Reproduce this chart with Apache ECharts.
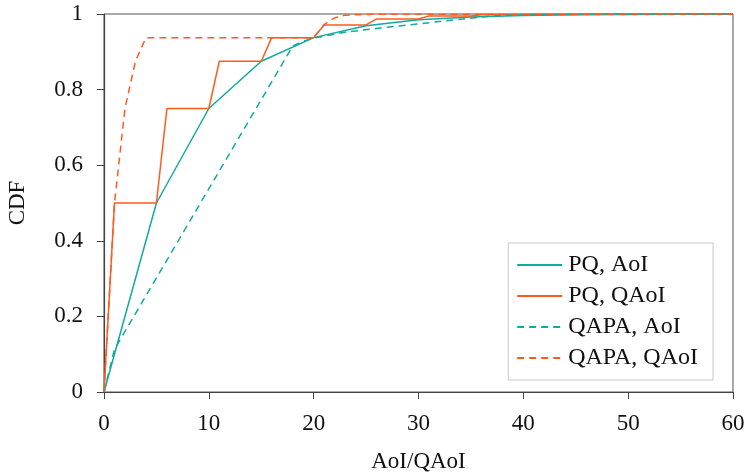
<!DOCTYPE html>
<html>
<head>
<meta charset="utf-8">
<script src="https://cdn.jsdelivr.net/npm/echarts@6/dist/echarts.min.js"></script>
<style>html,body{margin:0;padding:0;background:#fff}#c{width:746px;height:472px}</style>
</head>
<body>
<div id="c"></div>
<script>
var xTicks = [0, 10, 20, 30, 40, 50, 60];
var yTicks = [0, 0.2, 0.4, 0.6, 0.8, 1];
var seriesNames = ['PQ, AoI', 'PQ, QAoI', 'QAPA, AoI', 'QAPA, QAoI'];

var pqAoI_x = [0, 5, 10, 15, 20, 25, 30, 35, 40, 45, 50, 55, 60];
var pqAoI_y = [0, 0.5, 0.75, 0.875, 0.9375, 0.969, 0.985, 0.992, 0.996, 0.998, 0.999, 0.9995, 1];

var pqQAoI_x = [0, 1, 5, 6, 10, 11, 15, 16, 20, 21, 25, 26, 30, 31, 35, 36, 40, 41, 45, 46, 60];
var pqQAoI_y = [0, 0.5, 0.5, 0.75, 0.75, 0.875, 0.875, 0.9375, 0.9375, 0.971, 0.971, 0.987, 0.987, 0.995, 0.995, 0.998, 0.998, 0.999, 0.999, 1, 1];

var qapaAoI_x = [0, 1, 18, 19, 20, 23, 27, 31, 34, 37, 40, 60];
var qapaAoI_y = [0, 0.113, 0.915, 0.928, 0.936, 0.952, 0.965, 0.977, 0.986, 0.995, 0.999, 1];

var qapaQAoI_x = [0, 1, 2, 3, 4, 20, 21, 22, 23, 25, 60];
var qapaQAoI_y = [0, 0.5, 0.75, 0.875, 0.9375, 0.9375, 0.972, 0.99, 0.997, 0.999, 1];

var TEAL = '#10aa9f';
var ORANGE = '#ff5a1e';
var FONT = 'Liberation Serif';
var FS = 23;

function pairs(xs, ys) { return xs.map(function (x, i) { return [x, ys[i]]; }); }

function mk(name, xs, ys, color, dashed) {
  return {
    name: name, type: 'line', data: pairs(xs, ys), symbol: 'none', showSymbol: false,
    animation: false,
    lineStyle: { color: color, width: 1.5, type: dashed ? [7, 5] : 'solid' },
    itemStyle: { color: color }
  };
}

var chart = echarts.init(document.getElementById('c'), null, { renderer: 'canvas' });
chart.setOption({
  animation: false,
  textStyle: { fontFamily: FONT },
  grid: { left: 104, right: 13, top: 14, bottom: 80, containLabel: false, outerBoundsMode: 'none',
          show: true, borderColor: '#555', borderWidth: 1 },
  xAxis: {
    type: 'value', min: xTicks[0], max: xTicks[xTicks.length - 1], interval: 10,
    name: 'AoI/QAoI', nameLocation: 'middle', nameGap: 58,
    nameTextStyle: { fontFamily: FONT, fontSize: FS, color: '#111' },
    axisLine: { show: true, lineStyle: { color: '#444', width: 1.2 } },
    axisTick: { show: true, inside: false, length: 7, lineStyle: { color: '#444' } },
    axisLabel: { fontFamily: FONT, fontSize: FS, color: '#111', margin: 20 },
    splitLine: { show: false }
  },
  yAxis: {
    type: 'value', min: yTicks[0], max: yTicks[yTicks.length - 1], interval: 0.2,
    name: 'CDF', nameLocation: 'middle', nameGap: 75, nameRotate: 90,
    nameTextStyle: { fontFamily: FONT, fontSize: FS, color: '#111' },
    axisLine: { show: true, lineStyle: { color: '#444', width: 1.2 } },
    axisTick: { show: true, inside: false, length: 7, lineStyle: { color: '#444' } },
    axisLabel: { fontFamily: FONT, fontSize: FS, color: '#111', margin: 21 },
    splitLine: { show: false }
  },
  legend: {
    orient: 'vertical', right: 33, bottom: 92,
    data: seriesNames,
    itemWidth: 45, itemHeight: 14, itemGap: 7,
    itemStyle: { opacity: 0 },
    padding: [10, 15, 10, 8],
    backgroundColor: '#fff', borderColor: '#c8c8c8', borderWidth: 1,
    textStyle: { fontFamily: FONT, fontSize: 24, color: '#111', padding: [0, 0, 0, 1] }
  },
  series: [
    mk(seriesNames[0], pqAoI_x, pqAoI_y, TEAL, false),
    mk(seriesNames[1], pqQAoI_x, pqQAoI_y, ORANGE, false),
    mk(seriesNames[2], qapaAoI_x, qapaAoI_y, TEAL, true),
    mk(seriesNames[3], qapaQAoI_x, qapaQAoI_y, ORANGE, true)
  ]
});
</script>
</body>
</html>
